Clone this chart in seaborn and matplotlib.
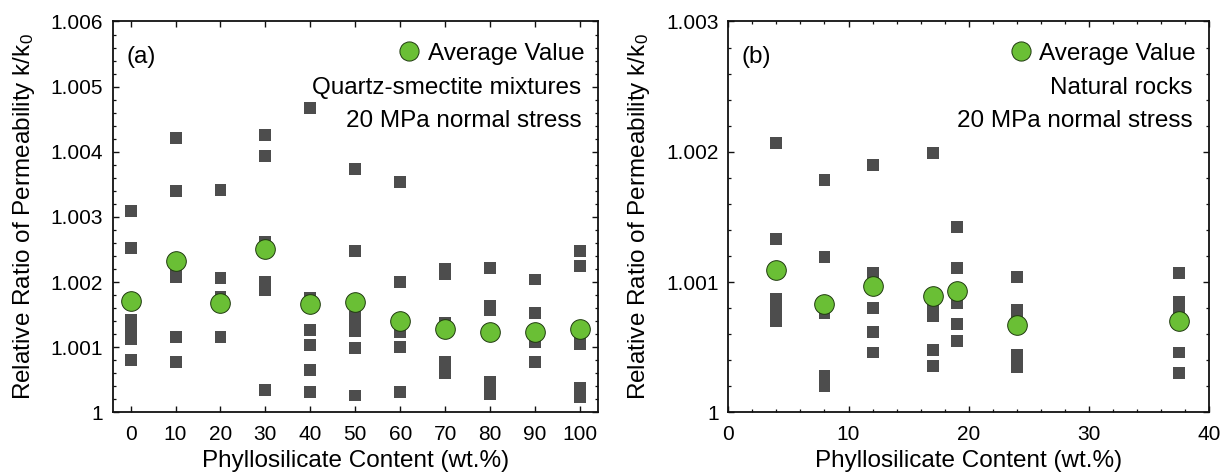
import numpy as np
import pandas as pd
import matplotlib
matplotlib.use("Agg")
import matplotlib.pyplot as plt
import seaborn as sns
from matplotlib.ticker import MultipleLocator, FuncFormatter
from matplotlib.lines import Line2D

# ---------------- data: panel (a) quartz-smectite mixtures ----------------
a_contents = [0, 10, 20, 30, 40, 50, 60, 70, 80, 90, 100]
a_samples = [
    [1.00309, 1.00252, 1.00142, 1.00132, 1.00122, 1.00113, 1.00080],
    [1.00421, 1.00340, 1.00215, 1.00208, 1.00116, 1.00077],
    [1.00342, 1.00207, 1.00177, 1.00116],
    [1.00426, 1.00393, 1.00262, 1.00200, 1.00194, 1.00188, 1.00035],
    [1.00467, 1.00175, 1.00126, 1.00104, 1.00065, 1.00031],
    [1.00374, 1.00248, 1.00146, 1.00138, 1.00130, 1.00125, 1.00099, 1.00026],
    [1.00353, 1.00200, 1.00131, 1.00124, 1.00101, 1.00031],
    [1.00220, 1.00213, 1.00137, 1.00077, 1.00069, 1.00060],
    [1.00221, 1.00164, 1.00157, 1.00124, 1.00047, 1.00038, 1.00028],
    [1.00204, 1.00153, 1.00108, 1.00078],
    [1.00248, 1.00225, 1.00112, 1.00105, 1.00037, 1.00024],
]
a_average = [1.00171, 1.00232, 1.00168, 1.00251, 1.00166, 1.00169,
             1.00141, 1.00128, 1.00124, 1.00123, 1.00128]

# ---------------- data: panel (b) natural rocks ----------------
b_contents = [4, 8, 12, 17, 19, 24, 37.5]
b_samples = [
    [1.00207, 1.00133, 1.00087, 1.00081, 1.00076, 1.00070],
    [1.00178, 1.00119, 1.00076, 1.00028, 1.00024, 1.00020],
    [1.00190, 1.00107, 1.00080, 1.00062, 1.00046],
    [1.00199, 1.00079, 1.00074, 1.00048, 1.00036],
    [1.00142, 1.00111, 1.00084, 1.00068, 1.00055],
    [1.00104, 1.00079, 1.00075, 1.00044, 1.00039, 1.00035],
    [1.00107, 1.00085, 1.00079, 1.00046, 1.00030],
]
b_average = [1.00109, 1.00083, 1.00097, 1.00089, 1.00093, 1.00067, 1.00070]

legend_label = "Average Value"
a_notes = ["Quartz-smectite mixtures", "20 MPa normal stress"]
b_notes = ["Natural rocks", "20 MPa normal stress"]
xlabel = "Phyllosilicate Content (wt.%)"
ylabel = r"Relative Ratio of Permeability $\mathregular{k/k_0}$"


def long_form(contents, samples):
    rows = [(c, v) for c, vals in zip(contents, samples) for v in vals]
    return pd.DataFrame(rows, columns=["content", "ratio"])


sns.set_style("ticks")
plt.rcParams["font.family"] = ["Liberation Sans", "DejaVu Sans"]
plt.rcParams.update({
    "xtick.direction": "in", "ytick.direction": "in",
    "xtick.top": True, "ytick.right": True,
    "xtick.major.size": 4.0, "ytick.major.size": 4.0,
    "xtick.minor.size": 2.2, "ytick.minor.size": 2.2,
    "xtick.major.width": 1.0, "ytick.major.width": 1.0,
    "xtick.minor.width": 0.9, "ytick.minor.width": 0.9,
    "axes.linewidth": 1.3,
    "axes.edgecolor": "#111111",
    "xtick.color": "#111111", "ytick.color": "#111111",
    "xtick.labelcolor": "black", "ytick.labelcolor": "black",
    "text.color": "black", "axes.labelcolor": "black",
    "mathtext.fontset": "custom",
    "mathtext.rm": "Liberation Sans",
})

SQ_COLOR = "#4d4d4d"
GREEN = "#6abf35"
TXT = 17.5
TICK = 15

fig = plt.figure(figsize=(12.27, 4.73), dpi=100)
ax_a = fig.add_axes([0.0918, 0.128, 0.3955, 0.8266])
ax_b = fig.add_axes([0.5936, 0.128, 0.3918, 0.8266])


def fmt(v, pos):
    s = f"{v:.3f}".rstrip("0").rstrip(".")
    return s


def draw(ax, contents, samples, averages, notes, tag, xlim, ylim, ymaj, xmaj,
         xmin, ylabelpad):
    df = long_form(contents, samples)
    avg = pd.DataFrame({"content": contents, "ratio": averages})
    sns.scatterplot(data=df, x="content", y="ratio", marker="s", s=74,
                    color=SQ_COLOR, edgecolor="none", linewidth=0, ax=ax,
                    zorder=2)
    sns.scatterplot(data=avg, x="content", y="ratio", marker="o", s=200,
                    color=GREEN, edgecolor="#1f3a0f", linewidth=0.7, ax=ax,
                    zorder=3)
    ax.set_xlim(*xlim)
    ax.set_ylim(*ylim)
    ax.yaxis.set_major_locator(MultipleLocator(ymaj))
    ax.yaxis.set_minor_locator(MultipleLocator(0.0002))
    ax.yaxis.set_major_formatter(FuncFormatter(fmt))
    ax.xaxis.set_major_locator(MultipleLocator(xmaj))
    if xmin:
        ax.xaxis.set_minor_locator(MultipleLocator(xmin))
    ax.tick_params(axis="both", which="both", labelsize=TICK, top=True,
                   right=True)
    ax.tick_params(axis="x", pad=9)
    ax.tick_params(axis="y", pad=7)
    ax.set_xlabel(xlabel, fontsize=TXT, labelpad=4)
    ax.set_ylabel(ylabel, fontsize=TXT, labelpad=ylabelpad)
    for sp in ax.spines.values():
        sp.set_visible(True)
    handle = Line2D([], [], marker="o", ls="", markerfacecolor=GREEN,
                    markeredgecolor="#1f3a0f", markeredgewidth=0.7,
                    markersize=13.8)
    ax.legend([handle], [legend_label], loc="upper right",
              bbox_to_anchor=(0.972, 0.945), frameon=False, fontsize=TXT,
              handletextpad=0.25, borderpad=0.0, borderaxespad=0.0,
              handlelength=1.0)
    ax.text(0.966, 0.830, notes[0], transform=ax.transAxes, ha="right",
            va="center", fontsize=TXT)
    ax.text(0.966, 0.745, notes[1], transform=ax.transAxes, ha="right",
            va="center", fontsize=TXT)
    ax.text(0.028, 0.91, tag, transform=ax.transAxes, ha="left",
            va="center", fontsize=TXT)


draw(ax_a, a_contents, a_samples, a_average, a_notes, "(a)",
     (-4, 104), (1.0, 1.006), 0.001, 10, None, 10)
draw(ax_b, b_contents, b_samples, b_average, b_notes, "(b)",
     (0, 40), (1.0, 1.003), 0.001, 10, 2, 10)

fig.savefig("out.png", dpi=100)
